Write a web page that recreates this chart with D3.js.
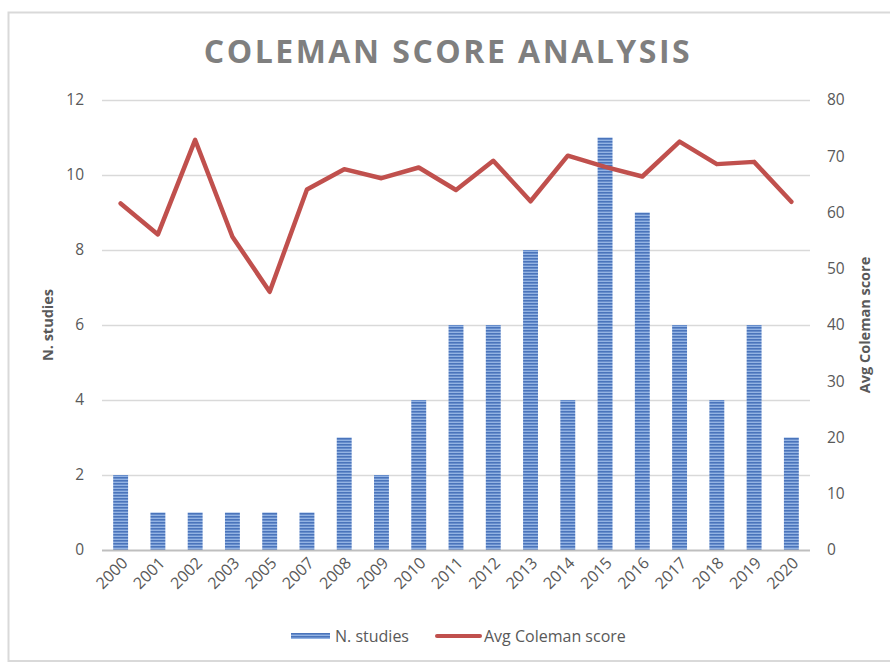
<!DOCTYPE html>
<html>
<head>
<meta charset="utf-8">
<script src="https://cdn.jsdelivr.net/npm/d3@7"></script>
<style>
  body { margin: 0; background: #fff; }
  text { font-family: "Open Sans", "Liberation Sans", sans-serif; }
</style>
</head>
<body>
<div id="chart"></div>
<script>
// data
var years = ["2000","2001","2002","2003","2005","2007","2008","2009","2010","2011",
             "2012","2013","2014","2015","2016","2017","2018","2019","2020"]
var nStudies = [2, 1, 1, 1, 1, 1, 3, 2, 4, 6, 6, 8, 4, 11, 9, 6, 4, 6, 3]
var avgColeman = [61.6, 56.1, 72.9, 55.7, 45.9, 64.1, 67.7, 66.1, 68.0, 64.0,
                  69.2, 62.0, 70.1, 68.1, 66.4, 72.6, 68.6, 69.0, 61.9]
var leftTicks = [0, 2, 4, 6, 8, 10, 12]
var rightTicks = [0, 10, 20, 30, 40, 50, 60, 70, 80]

var width = 890,
    height = 662
var margin = {top: 100, right: 80, bottom: 112, left: 102}

var svg = d3.select("#chart")
  .append("svg")
    .attr("width", width)
    .attr("height", height)

// outer frame
svg.append("rect")
  .attr("x", 8.5).attr("y", 12.5)
  .attr("width", 900).attr("height", 648.5)
  .attr("fill", "none")
  .attr("stroke", "#d9d9d9")
  .attr("stroke-width", 2)

// stripe pattern for bars
var defs = svg.append("defs")
var pat = defs.append("pattern")
  .attr("id", "stripes")
  .attr("patternUnits", "userSpaceOnUse")
  .attr("width", 4).attr("height", 3)
pat.append("rect").attr("width", 4).attr("height", 3).attr("fill", "#93b3e3")
pat.append("rect").attr("width", 4).attr("height", 1.6).attr("fill", "#4a74bb")

var x = d3.scaleBand()
  .domain(years)
  .range([margin.left, width - margin.right])
  .paddingInner(0.6)
  .paddingOuter(0.3)

var yL = d3.scaleLinear().domain([0, 12]).range([height - margin.bottom, margin.top])
var yR = d3.scaleLinear().domain([0, 80]).range([height - margin.bottom, margin.top])

// gridlines
svg.append("g")
  .selectAll("line")
  .data(leftTicks.slice(1))
  .enter()
  .append("line")
    .attr("x1", margin.left)
    .attr("x2", width - margin.right)
    .attr("y1", function(d) { return Math.round(yL(d)) + 0.5 })
    .attr("y2", function(d) { return Math.round(yL(d)) + 0.5 })
    .attr("stroke", "#d9d9d9")
    .attr("stroke-width", 1.5)

// left axis
var axL = svg.append("g")
  .attr("transform", "translate(" + margin.left + ",0)")
  .call(d3.axisLeft(yL).tickValues(leftTicks).tickSize(0).tickPadding(18))
axL.select(".domain").remove()
axL.selectAll("text").attr("fill", "#595959").style("font-size", "15.5px")

// right axis
var axR = svg.append("g")
  .attr("transform", "translate(" + (width - margin.right) + ",0)")
  .call(d3.axisRight(yR).tickValues(rightTicks).tickSize(0).tickPadding(17))
axR.select(".domain").remove()
axR.selectAll("text").attr("fill", "#595959").style("font-size", "15.5px")

// bars
svg.append("g")
  .selectAll("rect")
  .data(nStudies)
  .enter()
  .append("rect")
    .attr("x", function(d, i) { return x(years[i]) })
    .attr("y", function(d) { return yL(d) })
    .attr("width", x.bandwidth())
    .attr("height", function(d) { return yL(0) - yL(d) })
    .attr("fill", "url(#stripes)")

// baseline
svg.append("line")
  .attr("x1", margin.left).attr("x2", width - margin.right)
  .attr("y1", yL(0) + 0.5).attr("y2", yL(0) + 0.5)
  .attr("stroke", "#bfbfbf")
  .attr("stroke-width", 2)

// line series
var line = d3.line()
  .x(function(d, i) { return x(years[i]) + x.bandwidth() / 2 })
  .y(function(d) { return yR(d) })

svg.append("path")
  .datum(avgColeman)
  .attr("d", line)
  .attr("fill", "none")
  .attr("stroke", "#c0504d")
  .attr("stroke-width", 4.5)
  .attr("stroke-linejoin", "round")
  .attr("stroke-linecap", "round")

// x labels
var axX = svg.append("g")
  .attr("transform", "translate(0," + yL(0) + ")")
  .call(d3.axisBottom(x).tickSize(0).tickPadding(0))
axX.select(".domain").remove()
axX.selectAll("text")
  .attr("fill", "#595959")
  .style("font-size", "16px")
  .attr("text-anchor", "end")
  .attr("dy", 0)
  .attr("transform", "translate(8,14) rotate(-45)")

// title
svg.append("text")
  .attr("x", 448)
  .attr("y", 63)
  .attr("text-anchor", "middle")
  .attr("fill", "#7f7f7f")
  .style("font-size", "32px")
  .style("font-weight", "bold")
  .style("letter-spacing", "2.5px")
  .text("COLEMAN SCORE ANALYSIS")

// axis titles
svg.append("text")
  .attr("transform", "translate(53," + (margin.top + (height - margin.bottom - margin.top) / 2) + ") rotate(-90)")
  .attr("text-anchor", "middle")
  .attr("fill", "#595959")
  .style("font-size", "14.5px")
  .style("font-weight", "bold")
  .text("N. studies")

svg.append("text")
  .attr("transform", "translate(870," + (margin.top + (height - margin.bottom - margin.top) / 2) + ") rotate(-90)")
  .attr("text-anchor", "middle")
  .attr("fill", "#595959")
  .style("font-size", "14.5px")
  .style("font-weight", "bold")
  .text("Avg Coleman score")

// legend
var leg = svg.append("g").attr("transform", "translate(0,636)")
leg.append("rect")
  .attr("x", 291).attr("y", -3)
  .attr("width", 39).attr("height", 6)
  .attr("fill", "url(#stripes)")
leg.append("text")
  .attr("x", 335).attr("y", 6)
  .attr("fill", "#595959")
  .style("font-size", "16px")
  .text("N. studies")
leg.append("line")
  .attr("x1", 437).attr("x2", 480)
  .attr("y1", 0).attr("y2", 0)
  .attr("stroke", "#c0504d")
  .attr("stroke-width", 4)
  .attr("stroke-linecap", "round")
leg.append("text")
  .attr("x", 484).attr("y", 6)
  .attr("fill", "#595959")
  .style("font-size", "16px")
  .text("Avg Coleman score")
</script>
</body>
</html>
